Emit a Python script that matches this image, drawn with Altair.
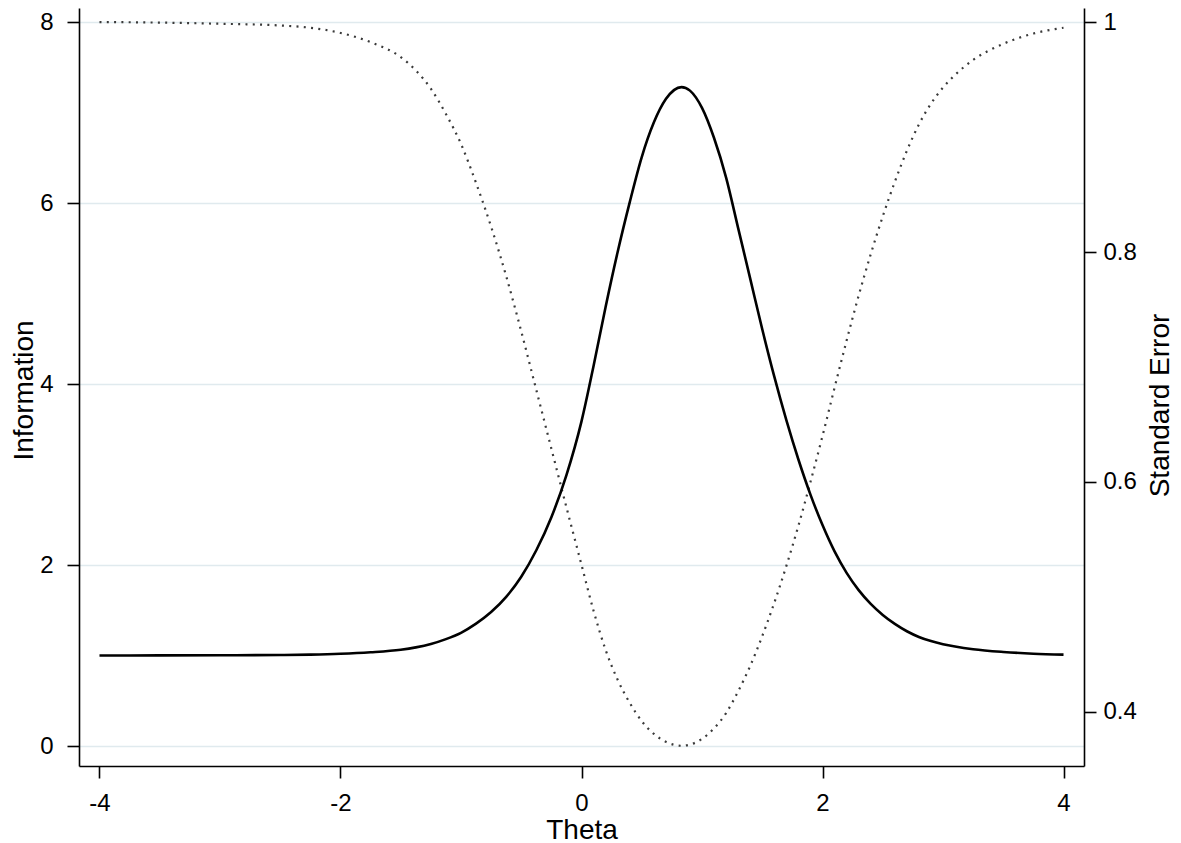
import altair as alt
import pandas as pd

# Values
theta = [-4.0, -3.5, -3.0, -2.5, -2.25, -2.0, -1.75, -1.5, -1.375, -1.25,
         -1.125, -1.0, -0.875, -0.75, -0.625, -0.5, -0.375, -0.25, -0.125, 0.0,
         0.1, 0.2, 0.3, 0.4, 0.5, 0.6, 0.7, 0.83, 0.9, 1.0,
         1.1, 1.2, 1.3, 1.4, 1.5, 1.6, 1.7, 1.8, 1.9, 2.0,
         2.1, 2.2, 2.3, 2.4, 2.5, 2.6, 2.7, 2.8, 2.9, 3.0,
         3.1, 3.25, 3.5, 3.75, 4.0]
information = [1.000, 1.001, 1.003, 1.006, 1.010, 1.019, 1.036, 1.064, 1.090, 1.127,
               1.181, 1.251, 1.352, 1.480, 1.648, 1.871, 2.163, 2.528, 2.993, 3.587,
               4.199, 4.852, 5.459, 6.007, 6.508, 6.889, 7.149, 7.281, 7.242, 7.051,
               6.718, 6.281, 5.723, 5.165, 4.605, 4.081, 3.601, 3.166, 2.778, 2.441,
               2.150, 1.913, 1.722, 1.570, 1.448, 1.349, 1.268, 1.205, 1.159, 1.125,
               1.099, 1.069, 1.039, 1.020, 1.010]
std_error = [1.000, 0.9995, 0.9985, 0.997, 0.995, 0.9905, 0.9825, 0.9695, 0.958, 0.942,
             0.920, 0.894, 0.860, 0.822, 0.779, 0.731, 0.680, 0.629, 0.578, 0.528,
             0.488, 0.454, 0.428, 0.408, 0.392, 0.381, 0.374, 0.3706, 0.3716, 0.3766,
             0.3858, 0.399, 0.418, 0.440, 0.466, 0.495, 0.527, 0.562, 0.600, 0.640,
             0.682, 0.723, 0.762, 0.798, 0.831, 0.861, 0.888, 0.911, 0.929, 0.943,
             0.954, 0.967, 0.981, 0.990, 0.995]

x_ticks = [-4, -2, 0, 2, 4]
info_ticks = [0, 2, 4, 6, 8]
se_ticks = [0.4, 0.6, 0.8, 1.0]

df = pd.DataFrame({"Theta": theta, "Information": information, "SE": std_error})

FONT = "Liberation Sans, Arial, Helvetica, sans-serif"

x_enc = alt.X(
    "Theta:Q",
    scale=alt.Scale(domain=[-4.17, 4.17], nice=False, zero=False),
    axis=alt.Axis(values=x_ticks, title="Theta", grid=False,
                  labelExpr="'' + datum.value",
                  labelPadding=13, titleY=72, titleBaseline="alphabetic"),
)

se_line = alt.Chart(df).mark_line(
    color="#3a3a3a", strokeWidth=2.2, strokeDash=[2, 5.3], interpolate="monotone"
).encode(
    x=x_enc,
    y=alt.Y("SE:Q",
            scale=alt.Scale(domain=[0.353, 1.0122], nice=False, zero=False),
            axis=alt.Axis(orient="right", values=se_ticks, format="~g", grid=False,
                          title="Standard Error", titleAngle=270, titleX=84, titleY=397,
                          titleBaseline="alphabetic", labelPadding=7)),
)

info_line = alt.Chart(df).mark_line(
    color="black", strokeWidth=2.6, interpolate="monotone"
).encode(
    x=x_enc,
    y=alt.Y("Information:Q",
            scale=alt.Scale(domain=[-0.221, 8.155], nice=False, zero=False),
            axis=alt.Axis(orient="left", values=info_ticks, grid=True,
                          gridColor="#e0eaee", gridWidth=1.6,
                          title="Information", titleAngle=270, titleX=-47, titleY=382,
                          titleBaseline="alphabetic", labelPadding=14)),
)

chart = (
    alt.layer(se_line, info_line)
    .resolve_scale(y="independent")
    .properties(
        width=1005, height=758,
        autosize=alt.AutoSizeParams(type="none"),
        padding={"left": 71, "top": 0, "right": 89, "bottom": 77},
        background="white",
    )
    .configure_view(stroke=None)
    .configure_axis(
        labelFont=FONT, titleFont=FONT, labelFontSize=24, titleFontSize=28,
        titleFontWeight="normal", labelColor="black", titleColor="black",
        domainColor="black", domainWidth=1.6, tickColor="black", tickWidth=1.6,
        tickSize=12,
    )
)

chart.save("out.html", embed_options={"renderer": "svg", "actions": False})
